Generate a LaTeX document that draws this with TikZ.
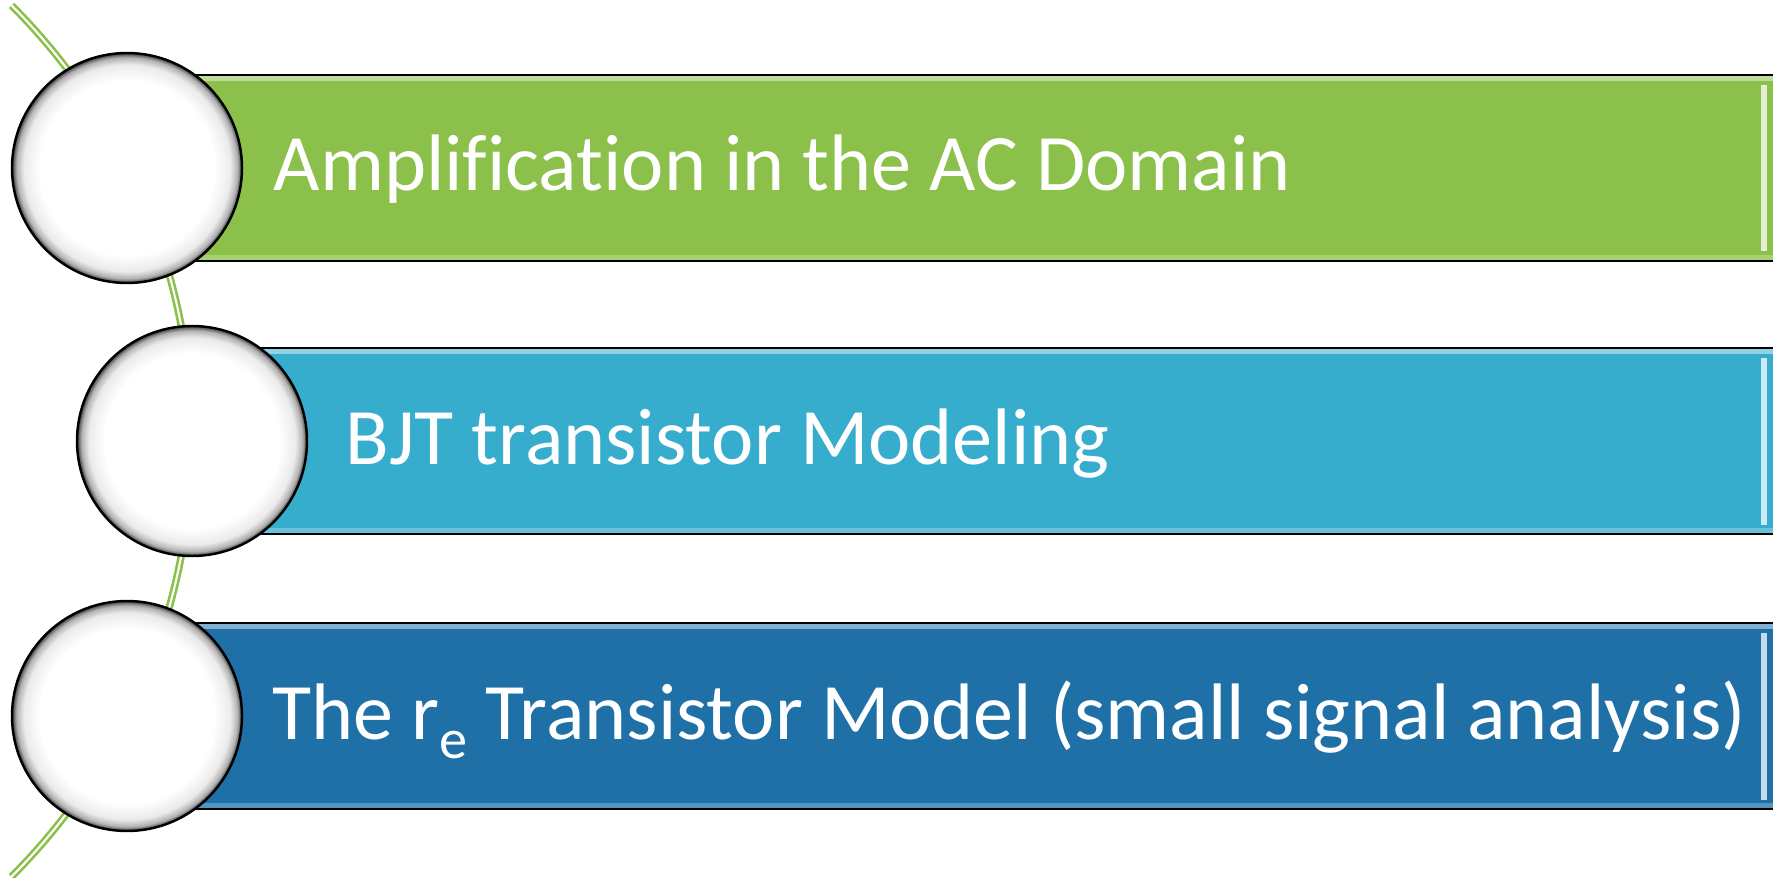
\documentclass[tikz,border=0pt]{standalone}
\usepackage{fontspec}
\setmainfont{Carlito}[Ligatures={NoCommon}]
\definecolor{leafgreen}{HTML}{8BC04A}
\definecolor{skyblue}{HTML}{37ADCE}
\definecolor{deepblue}{HTML}{1E70A6}
\pgfdeclareradialshading{pearlshade}{\pgfpoint{0bp}{0bp}}{color(0bp)=(white); color(19bp)=(white); color(22.5bp)=(black!8); color(24bp)=(black!30); color(25bp)=(black!75); color(50bp)=(black!75)}
\begin{document}
\begin{tikzpicture}
          \tikzset{
            bar/.style={draw=black,line width=0.6pt,minimum height=1.86cm,anchor=west,inner sep=0pt},
            gloss/.style={line width=1.2pt},
            pearl/.style={draw=black,line width=0.7pt,shape=circle,minimum size=2.30cm,inner sep=0pt,shading=pearlshade},
            caption/.style={anchor=base west,text=white,inner sep=0pt,font=\fontsize{22.8}{28}\selectfont},
            spine/.style={draw=leafgreen,line width=0.75pt,double=white,double distance=0.6pt}
          }
          \useasboundingbox (0,0) rectangle (17.73,-8.78);
          %spine: arc round a hub far to the left
          \coordinate (hub) at (-4.24,-4.41);
          \draw[spine] (hub) ++(45:6.16) arc[start angle=45,end angle=-45,radius=6.16];
          %bars
          \node[bar,fill=leafgreen,minimum width=16.8cm] (bar1) at (1.27,-1.68) {};
          \node[bar,fill=skyblue,minimum width=16.2cm] (bar2) at (1.92,-4.41) {};
          \node[bar,fill=deepblue,minimum width=16.8cm] (bar3) at (1.27,-7.16) {};
          \draw[gloss,leafgreen!55!white] ([yshift=-1.3pt]bar1.north west) -- ([yshift=-1.3pt]bar1.north east);
          \draw[gloss,leafgreen!75!white] ([yshift=1.3pt]bar1.south west) -- ([yshift=1.3pt]bar1.south east);
          \draw[gloss,skyblue!55!white] ([yshift=-1.3pt]bar2.north west) -- ([yshift=-1.3pt]bar2.north east);
          \draw[gloss,skyblue!75!white] ([yshift=1.3pt]bar2.south west) -- ([yshift=1.3pt]bar2.south east);
          \draw[gloss,deepblue!55!white] ([yshift=-1.3pt]bar3.north west) -- ([yshift=-1.3pt]bar3.north east);
          \draw[gloss,deepblue!75!white] ([yshift=1.3pt]bar3.south west) -- ([yshift=1.3pt]bar3.south east);
          %bevel at the right end
          \draw[line width=1.6pt,leafgreen!25!white] (17.64,-0.85) -- (17.64,-2.51);
          \draw[line width=1.6pt,skyblue!25!white] (17.64,-3.58) -- (17.64,-5.25);
          \draw[line width=1.6pt,deepblue!25!white] (17.64,-6.33) -- (17.64,-8.00);
          %discs
          \node[pearl] (disc1) at (1.27,-1.68) {};
          \node[pearl] (disc2) at (1.92,-4.41) {};
          \node[pearl] (disc3) at (1.27,-7.16) {};
          %texts
          \node[caption] (text1) at (2.73,-1.91) {Amplification in the AC Domain};
          \node[caption] (text2) at (3.45,-4.65) {BJT transistor Modeling};
          \node[caption] (text3) at (2.72,-7.39) {The r\raisebox{-0.19cm}{\fontsize{16}{16}\selectfont e} Transistor Model (small signal analysis)};
      \end{tikzpicture}
\end{document}
